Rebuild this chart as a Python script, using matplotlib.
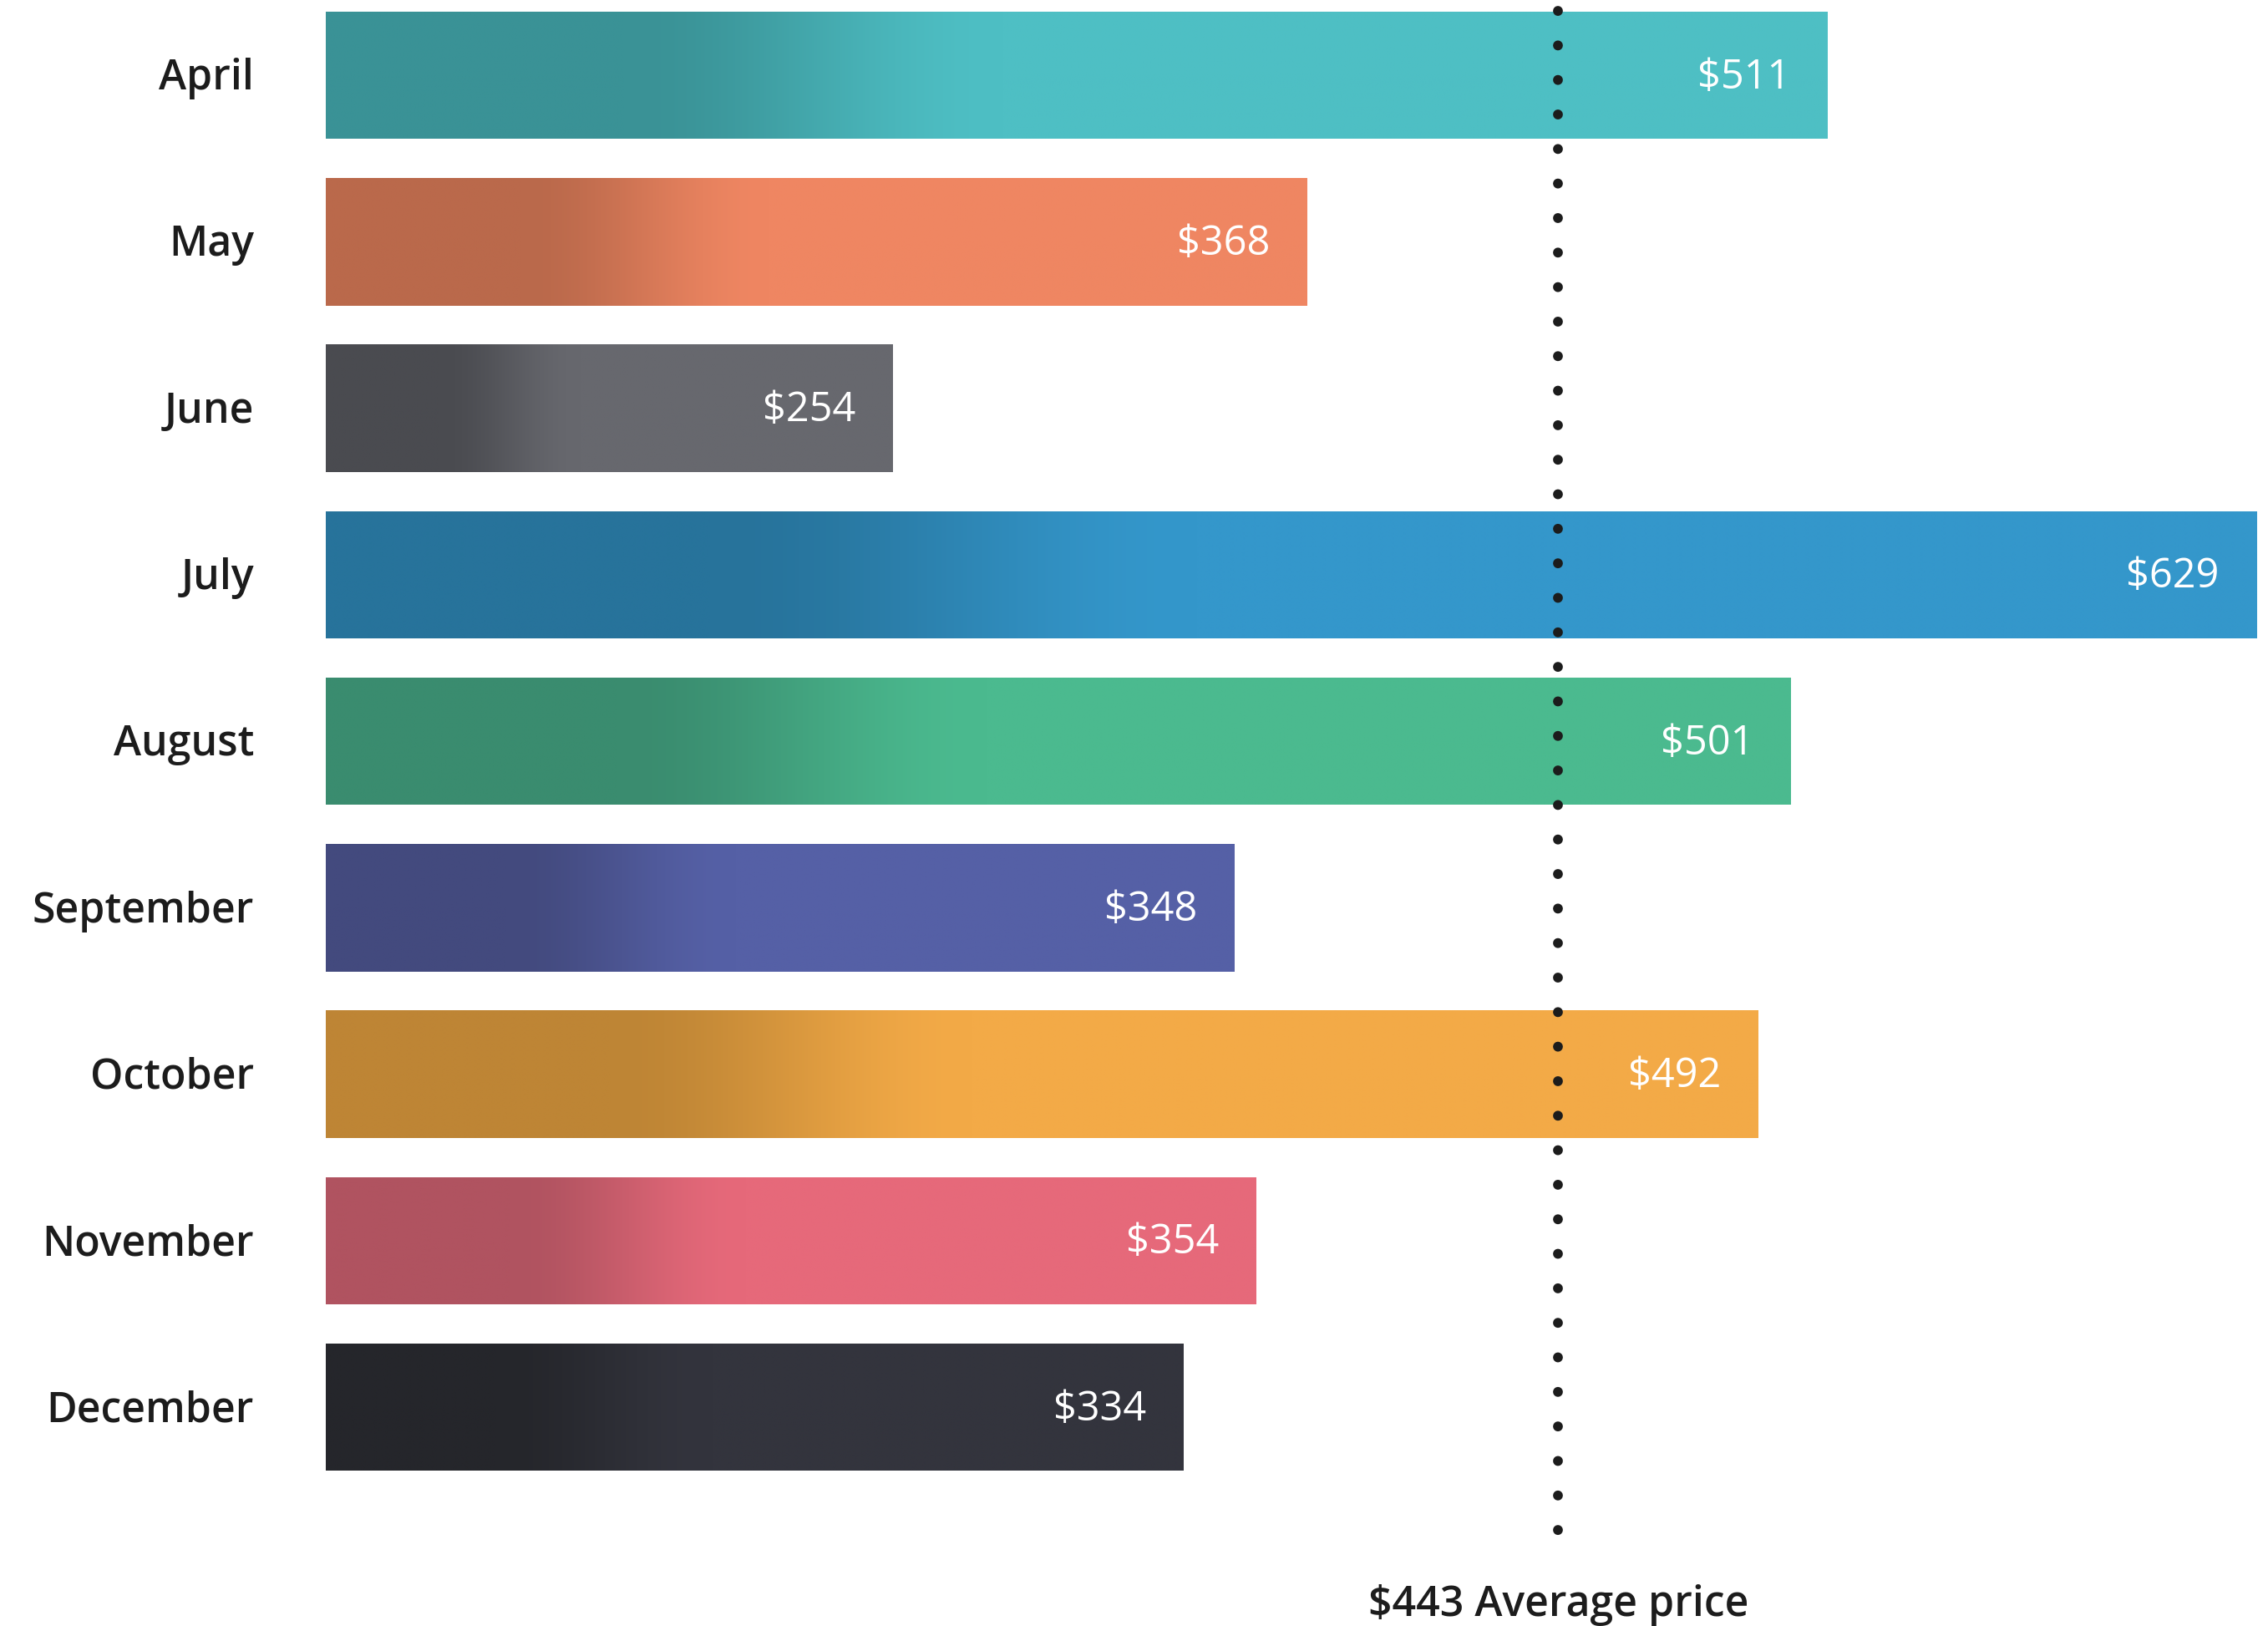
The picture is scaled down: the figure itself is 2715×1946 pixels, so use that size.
import numpy as np
import matplotlib
matplotlib.use('Agg')
import matplotlib.pyplot as plt
from matplotlib.colors import to_rgb

# data
months = ['April', 'May', 'June', 'July', 'August', 'September', 'October', 'November', 'December']
prices = [511, 368, 254, 629, 501, 348, 492, 354, 334]
avg_price = 443
avg_line_at = 437  # where the dotted line is drawn on the bar scale

# left (dark) and right (light) end of each bar's gradient
dark_colors = ['#3A9296', '#BA694B', '#4A4B50', '#27739B', '#3A8C6F',
               '#434A7E', '#BE8535', '#B05360', '#25262B']
light_colors = ['#4EBFC4', '#EF8662', '#67686E', '#3497CB', '#4BBA8F',
                '#5560A6', '#F3AA47', '#E6697A', '#33343D']

W, H = 2715, 1946
fig = plt.figure(figsize=(W / 100, H / 100), dpi=100)
ax = fig.add_axes([390 / W, 0, 1 - 390 / W, 1])

x0, x1 = 98.1, 632.2  # the bars start at the left edge of the axes
bar_h = 0.765
text_col = '#1c1c1c'

for i, (m, v, dc, lc) in enumerate(zip(months, prices, dark_colors, light_colors)):
    bar = ax.barh(i, v - x0, left=x0, height=bar_h, color=lc, zorder=2)[0]
    # gradient: dark until ~20% of the bar, light from ~45%
    t = np.linspace(0, 1, 400)
    f = np.clip((t - 0.2) / 0.25, 0, 1)
    f = f * f * (3 - 2 * f)
    rgb = np.array(to_rgb(dc))[None, :] * (1 - f[:, None]) + np.array(to_rgb(lc))[None, :] * f[:, None]
    img = ax.imshow(rgb[None, :, :], extent=(x0, v, i + bar_h / 2, i - bar_h / 2),
                    aspect='auto', interpolation='bilinear', zorder=3)
    img.set_clip_path(bar)

    ax.annotate(m, xy=(x0, i), xytext=(-62, -3), textcoords='offset points',
                ha='right', va='center', fontsize=36, family='Open Sans',
                fontweight='semibold', color=text_col)
    ax.annotate(f'${v}', xy=(v, i), xytext=(-32, -2), textcoords='offset points',
                ha='right', va='center', fontsize=35, family='Open Sans',
                fontweight='normal', color='white', zorder=6)

# dotted average line
ax.plot([avg_line_at, avg_line_at], [-0.385, 8.74], color=text_col, lw=8.5,
        linestyle=(0, (0.01, 3.49)), dash_capstyle='round', zorder=5)
ax.text(avg_line_at, 9.19, f'${avg_price} Average price', ha='center', va='center',
        fontsize=36, family='Open Sans', fontweight='semibold', color=text_col)

ax.set_xlim(x0, x1)
ax.set_ylim(9.314, -0.452)
ax.axis('off')

fig.savefig('out.png', dpi=100, facecolor='white')
